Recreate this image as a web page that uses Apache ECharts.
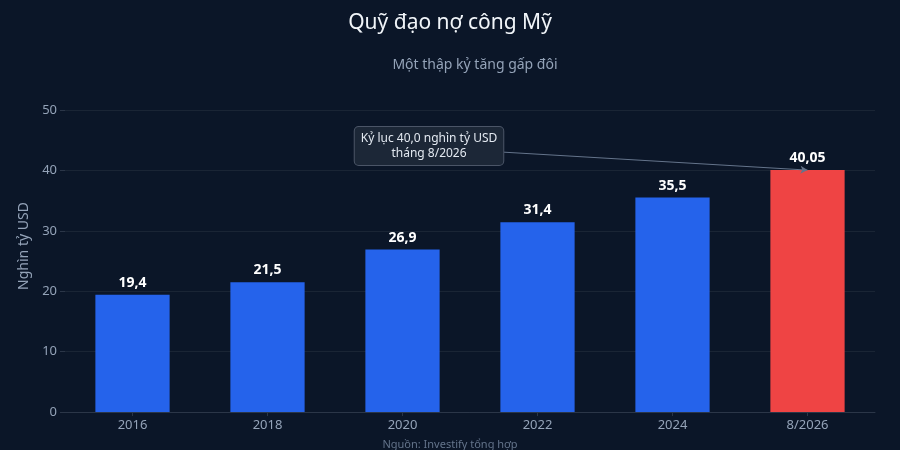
<!DOCTYPE html>
<html>
<head>
<meta charset="utf-8">
<script src="https://cdn.jsdelivr.net/npm/echarts@6/dist/echarts.min.js"></script>
<style>
  html, body { margin: 0; padding: 0; background: #0b1628; }
  #chart { width: 900px; height: 450px; }
</style>
</head>
<body>
<div id="chart"></div>
<script>
var years = ['2016', '2018', '2020', '2022', '2024', '8/2026'];
var debt = [19.4, 21.5, 26.9, 31.4, 35.5, 40.05];
var yTicks = [0, 10, 20, 30, 40, 50];

var font = '"Noto Sans", "Open Sans", sans-serif';

function fmt(v) { return String(v).replace('.', ','); }

var chart = echarts.init(document.getElementById('chart'), null, { renderer: 'canvas' });
chart.setOption({
  backgroundColor: '#0b1628',
  textStyle: { fontFamily: font },
  title: [{
    text: 'Quỹ đạo nợ công Mỹ',
    left: 'center',
    top: 8,
    textStyle: { color: '#f1f5f9', fontSize: 21, fontWeight: 'normal', fontFamily: font }
  }, {
    text: 'Một thập kỷ tăng gấp đôi',
    left: 470,
    textAlign: 'center',
    top: 53,
    textStyle: { color: '#94a3b8', fontSize: 14, fontWeight: 'normal', fontFamily: font }
  }, {
    text: 'Nguồn: Investify tổng hợp',
    left: 'center',
    top: 434,
    textStyle: { color: '#64748b', fontSize: 11, fontWeight: 'normal', fontFamily: font }
  }],
  grid: { left: 65, right: 25, top: 110, bottom: 38 },
  xAxis: {
    type: 'category',
    data: years,
    axisLine: { lineStyle: { color: '#2b3648' } },
    axisTick: { show: true, alignWithLabel: true, length: 4, lineStyle: { color: '#2b3648' } },
    axisLabel: { color: '#94a3b8', fontSize: 13, margin: 7 }
  },
  yAxis: {
    type: 'value',
    min: yTicks[0],
    max: yTicks[yTicks.length - 1],
    interval: 10,
    name: 'Nghìn tỷ USD',
    nameLocation: 'middle',
    nameGap: 33,
    nameTextStyle: { color: '#94a3b8', fontSize: 14, padding: [0, 0, 0, 30] },
    axisLine: { show: false },
    axisTick: { show: true, length: 5, lineStyle: { color: '#2b3648' } },
    axisLabel: { color: '#94a3b8', fontSize: 13, margin: 8 },
    splitLine: { lineStyle: { color: '#1a2535', width: 1 } }
  },
  series: [{
    type: 'bar',
    barWidth: '55%',
    data: debt.map(function (v, i) {
      return { value: v, itemStyle: { color: i === debt.length - 1 ? '#ef4444' : '#2563eb' } };
    }),
    label: {
      show: true,
      position: 'top',
      distance: 5,
      color: '#ffffff',
      fontSize: 14,
      fontWeight: 'bold',
      formatter: function (p) { return fmt(p.value); }
    },
    markPoint: {
      silent: true,
      symbol: 'rect',
      symbolSize: 1,
      itemStyle: { color: 'transparent' },
      data: [{
        x: 429,
        y: 146,
        label: {
          show: true,
          position: 'inside',
          formatter: 'Kỷ lục 40,0 nghìn tỷ USD\ntháng 8/2026',
          color: '#e2e8f0',
          fontSize: 12,
          lineHeight: 15,
          align: 'center',
          backgroundColor: '#1c2737',
          borderColor: '#4b5567',
          borderWidth: 1,
          borderRadius: 4,
          padding: [4, 6]
        }
      }]
    },
    markLine: {
      silent: true,
      symbol: ['none', 'arrow'],
      symbolSize: [6, 7],
      label: { show: false },
      lineStyle: { color: '#64748b', width: 1, type: 'solid' },
      data: [[
        { x: 501, y: 152 },
        { coord: [years[years.length - 1], debt[debt.length - 1]] }
      ]]
    }
  }]
});
</script>
</body>
</html>
